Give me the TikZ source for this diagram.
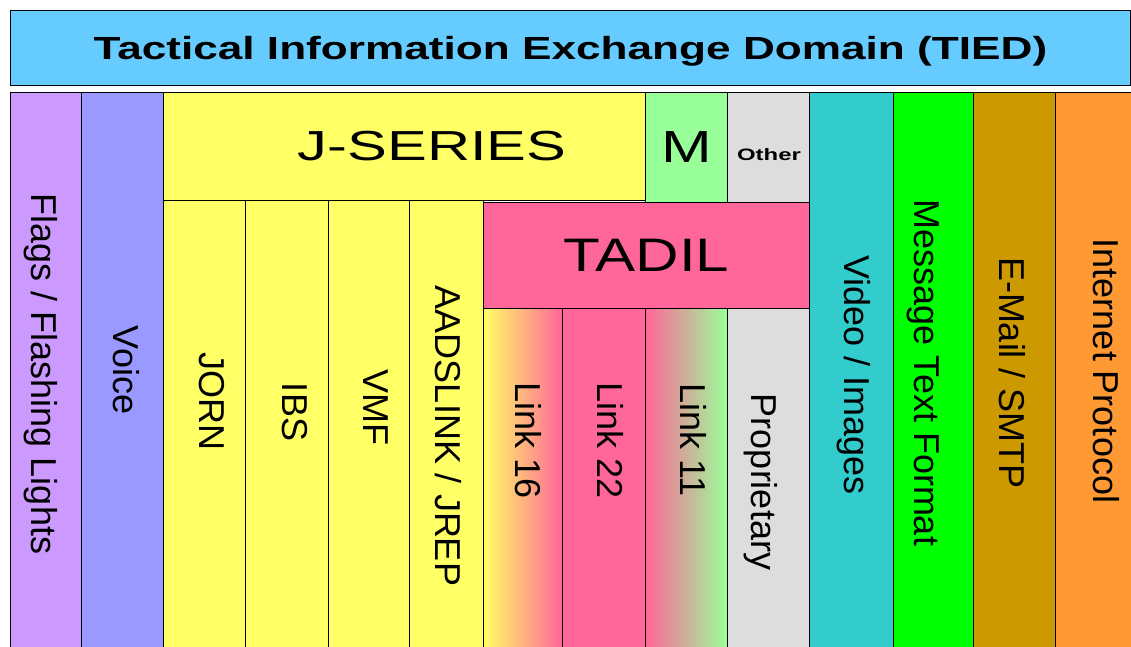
\documentclass[tikz,border=0pt]{standalone}
\usepackage{fontspec}
\setmainfont{Liberation Sans}
\usepackage{graphicx}
\usepackage{tikz}

\definecolor{tiedblue}{HTML}{66CCFF}
\definecolor{flagpurple}{HTML}{CC99FF}
\definecolor{voiceblue}{HTML}{9999FF}
\definecolor{jyellow}{HTML}{FFFF66}
\definecolor{mgreen}{HTML}{99FF99}
\definecolor{othergray}{HTML}{DDDDDD}
\definecolor{tadilpink}{HTML}{FF6699}
\definecolor{videocyan}{HTML}{33CCCC}
\definecolor{mtfgreen}{HTML}{00FF00}
\definecolor{mailochre}{HTML}{CC9900}
\definecolor{iporange}{HTML}{FF9933}

\newcommand{\widetext}[2]{\scalebox{#1}[1]{#2}}

\begin{document}
\begin{tikzpicture}[x=1pt,y=-1pt,
    cell/.style={draw=black,line width=0.8pt,inner sep=0pt,anchor=north west},
    vlab/.style={rotate=-90,inner sep=0pt,text height=27pt,text depth=7.5pt,
      font=\fontsize{36}{40}\selectfont},
    hlab/.style={inner sep=0pt}]
    \useasboundingbox (0,0) rectangle (1131,646);
    \fill[white] (0,0) rectangle (1131,646);
    \clip (0,0) rectangle (1131,646);

    \node[cell,fill=tiedblue,minimum width=1120pt,minimum height=75pt,text depth=0pt,
      font=\bfseries\fontsize{32}{36}\selectfont] (tied) at (10,10)
      {\widetext{1.38}{Tactical Information Exchange Domain (TIED)}};

    \node[cell,fill=flagpurple,minimum width=71pt,minimum height=570pt] (flags) at (10,92) {};
    \node[cell,fill=voiceblue,minimum width=82pt,minimum height=570pt] (voice) at (81,92) {};
    \node[cell,fill=jyellow,minimum width=482pt,minimum height=108pt] (jseries) at (163,92) {};
    \node[cell,fill=mgreen,minimum width=82pt,minimum height=110pt,
      font=\fontsize{45}{50}\selectfont] (mser) at (645,92) {\widetext{1.35}{M}};
    \node[cell,fill=othergray,minimum width=82pt,minimum height=110pt] (other) at (727,92) {};
    \node[cell,fill=jyellow,minimum width=82pt,minimum height=460pt] (jorn) at (163,200) {};
    \node[cell,fill=jyellow,minimum width=83pt,minimum height=460pt] (ibs) at (245,200) {};
    \node[cell,fill=jyellow,minimum width=81pt,minimum height=460pt] (vmf) at (328,200) {};
    \node[cell,fill=jyellow,minimum width=74pt,minimum height=460pt] (aads) at (409,200) {};
    \node[cell,fill=tadilpink,minimum width=326pt,minimum height=106pt,
      font=\fontsize{47}{52}\selectfont] (tadil) at (483,202) {\widetext{1.28}{TADIL}};
    \node[cell,left color=jyellow,right color=tadilpink,minimum width=79pt,minimum height=352pt] (link16) at (483,308) {};
    \node[cell,fill=tadilpink,minimum width=83pt,minimum height=352pt] (link22) at (562,308) {};
    \node[cell,left color=tadilpink,right color=mgreen,minimum width=82pt,minimum height=352pt] (link11) at (645,308) {};
    \node[cell,fill=othergray,minimum width=82pt,minimum height=352pt] (prop) at (727,308) {};
    \node[cell,fill=videocyan,minimum width=84pt,minimum height=570pt] (video) at (809,92) {};
    \node[cell,fill=mtfgreen,minimum width=80pt,minimum height=570pt] (mtf) at (893,92) {};
    \node[cell,fill=mailochre,minimum width=82pt,minimum height=570pt] (email) at (973,92) {};
    \node[cell,fill=iporange,minimum width=90pt,minimum height=570pt] (inet) at (1055,92) {};

    \node[hlab,font=\fontsize{42}{46}\selectfont] (jseries-lab) at (432,146)
      {\widetext{1.42}{J-SERIES}};
    \node[hlab,font=\bfseries\fontsize{16.5}{19}\selectfont] (other-lab) at (769,155)
      {\widetext{1.45}{Other}};

    \node[vlab] (flags-lab) at (41,374) {Flags / Flashing Lights};
    \node[vlab] (voice-lab) at (123,370) {Voice};
    \node[vlab] (jorn-lab) at (209,401) {JORN};
    \node[vlab] (ibs-lab) at (292,412) {IBS};
    \node[vlab] (vmf-lab) at (373,407) {VMF};
    \node[vlab] (aads-lab) at (445,436) {AADSLINK / JREP};
    \node[vlab] (link16-lab) at (525,441) {Link 16};
    \node[vlab] (link22-lab) at (607,441) {Link 22};
    \node[vlab] (link11-lab) at (690,440) {Link 11};
    \node[vlab] (prop-lab) at (761,482) {Proprietary};
    \node[vlab] (video-lab) at (854,375) {Video / Images};
    \node[vlab] (mtf-lab) at (924,373) {Message Text Format};
    \node[vlab] (email-lab) at (1009,373) {E-Mail / SMTP};
    \node[vlab] (inet-lab) at (1103,371) {Internet Protocol};
\end{tikzpicture}
\end{document}
